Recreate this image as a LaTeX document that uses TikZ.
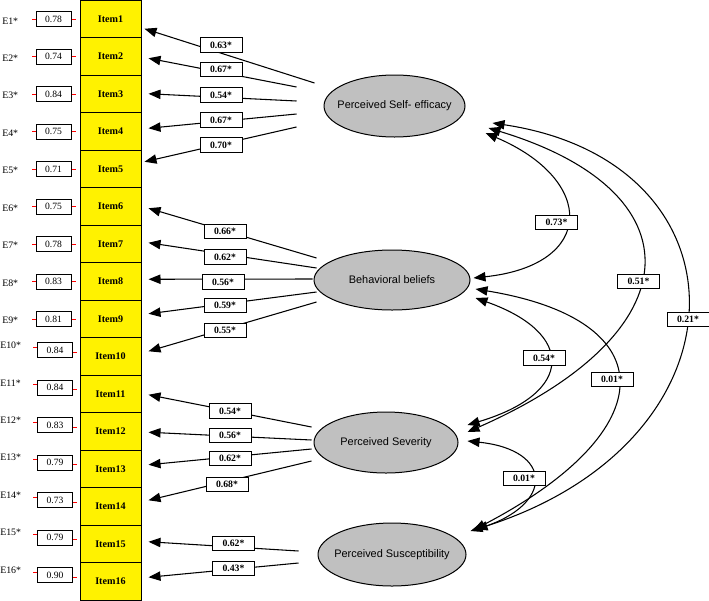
\documentclass[tikz,border=0pt]{standalone}
\usepackage{fontspec}
\setmainfont{Liberation Serif}
\newfontfamily\latentfont{Liberation Sans}
\usetikzlibrary{arrows.meta,shapes.geometric}
\definecolor{latentgray}{RGB}{192,192,192}
\tikzset{
	>={Triangle[length=9pt,width=7pt]},
	item/.style={draw, fill=yellow, line width=0.75pt, minimum width=45.75pt, minimum height=28.125pt, inner sep=0pt, font=\fontsize{7.6}{9}\selectfont\bfseries},
	errbox/.style={draw, fill=white, line width=0.75pt, minimum width=26.25pt, minimum height=10.9pt, inner sep=0pt, font=\fontsize{7.2}{8}\selectfont},
	errname/.style={anchor=west, inner sep=0pt, font=\fontsize{7.4}{8}\selectfont},
	coef/.style={draw, fill=white, line width=0.75pt, minimum width=31.5pt, minimum height=10.9pt, inner sep=0pt, font=\fontsize{7.3}{8}\selectfont\bfseries},
	latent/.style={ellipse, draw, fill=latentgray, line width=0.75pt, inner sep=-20pt, font=\fontsize{8.2}{10}\latentfont},
	load/.style={->, line width=0.8pt},
	cov/.style={<->, line width=0.8pt},
}
\begin{document}
\begin{tikzpicture}[x=0.75pt, y=-0.75pt]
	\useasboundingbox (0,0) rectangle (709,600);
	% observed items
	\foreach \i in {1,...,16}
		\node (i\i) [item] at (110.5,{37.5*(\i-0.5)}) {Item\i};
	% error terms
	\foreach \v [count=\i] in {0.78,0.74,0.84,0.75,0.71,0.75,0.78,0.83,0.81,0.84,0.84,0.83,0.79,0.73,0.79,0.90} {
		\ifnum\i<10
			\node (e\i) [errbox] at (53.5,{37.5*(\i-0.5)+0.5}) {\v};
			\node (n\i) [errname] at (2,{37.5*(\i-0.5)+2}) {E\i*};
			\draw [red] (e\i.west) -- ++(-4,0);
			\draw [red] (e\i.east) -- ++(4,0);
		\else
			\node (e\i) [errbox] at (55,{37.5*(\i-0.5)-6}) {\v};
			\node (n\i) [errname] at (0,{37.5*(\i-0.5)-11}) {E\i*};
			\draw [red] ([shift={(0,-3)}]e\i.west) -- ++(-4,0);
			\draw [red] ([shift={(0,2)}]e\i.east) -- ++(4,0);
		\fi
	}
	% latent variables
	\node (se) [latent, minimum width=105.75pt, minimum height=46.5pt] at (394.5,106) {Perceived Self- efficacy};
	\node (bb) [latent, minimum width=117pt, minimum height=45pt] at (392,280) {Behavioral beliefs};
	\node (sev) [latent, minimum width=108pt, minimum height=45.75pt] at (386,442.5) {Perceived Severity};
	\node (sus) [latent, minimum width=111pt, minimum height=47.25pt] at (392,554.5) {Perceived Susceptibility};
	% loadings
	\foreach \k/\lat/\sx/\sy/\tx/\ty/\lx/\ly/\v in {
		1/se/-9/-23/3/10/221/45/0.63*,
		2/se/-27/-19/7/2/221/69.5/0.67*,
		3/se/-27/-5/7/0/221/95/0.54*,
		4/se/-27/8/7/-3/221/120/0.67*,
		5/se/-27/21/3/-7/221/145/0.70*,
		6/bb/3/-22/7/2/225/231.5/0.66*,
		7/bb/3/-12/7/-1/225/257/0.62*,
		8/bb/-1/-1/7/-2/223/282/0.56*,
		9/bb/3/12/7/-5/225/305.5/0.59*,
		10/bb/3/22/7/-5/225/330.5/0.55*,
		11/sev/-2/-15.5/7/1/230/411/0.54*,
		12/sev/-2/-2.5/7/1/230/435.5/0.56*,
		13/sev/-2/6.5/7/-4/230/458.5/0.62*,
		14/sev/-2/18.5/7/-6/227/484.5/0.68*,
		15/sus/-19/-3.5/7/-2/233.5/543.5/0.62*,
		16/sus/-19/8.5/7/-4/233.5/568.5/0.43*} {
		\coordinate (s\k) at ([shift={(\sx,\sy)}]\lat.west);
		\draw [load] (s\k) -- ([shift={(\tx,\ty)}]i\k.east);
		\node (l\k) [coef] at (\lx,\ly) {\v};
	}
	% correlations
	\draw [cov] ([shift={(20,27)}]se.east) .. controls (596,180) and (596,265) .. ([shift={(3,-2)}]bb.east);
	\draw [cov] ([shift={(23,22)}]se.east) .. controls (697,191) and (697,331) .. ([shift={(9,-10.5)}]sev.east);
	\draw [cov] ([shift={(27,17)}]se.east) .. controls (754,162) and (754,440) .. ([shift={(9,-25)}]sus.east);
	\draw [cov] ([shift={(5,18)}]bb.east) .. controls (575,333) and (575,393) .. ([shift={(9,-17.5)}]sev.east);
	\draw [cov] ([shift={(5,9)}]bb.east) .. controls (665,320) and (665,430) .. ([shift={(7,-24.5)}]sus.east);
	\draw [cov] ([shift={(9,-1.5)}]sev.east) .. controls (554,450) and (554,505) .. ([shift={(4,-23.5)}]sus.east);
	\node (c1) [coef] at (556.5,222.5) {0.73*};
	\node (c2) [coef] at (638.5,281.5) {0.51*};
	\node (c3) [coef] at (688,319.5) {0.21*};
	\node (c4) [coef] at (544,358) {0.54*};
	\node (c5) [coef] at (612,379.5) {0.01*};
	\node (c6) [coef] at (524,478.5) {0.01*};
\end{tikzpicture}
\end{document}
